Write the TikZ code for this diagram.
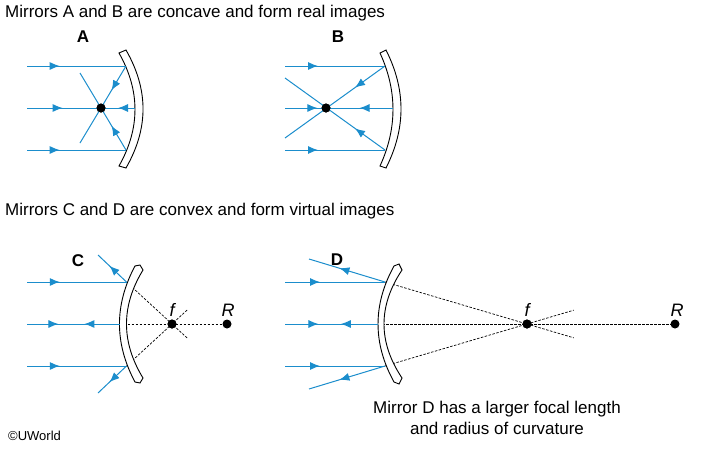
\documentclass[tikz,border=0pt]{standalone}
\usepackage{fontspec}
\setmainfont{Liberation Sans}
\usetikzlibrary{decorations.markings,arrows.meta,calc}
\definecolor{rayblue}{RGB}{27,141,204}
\begin{document}
\begin{tikzpicture}[x=1pt,y=-1pt,
  ray/.style={draw=rayblue,line width=1},
  arr/.style={postaction={decorate},decoration={markings,mark=at position #1 with {\arrow[rayblue]{Latex[length=10,width=8]}}}},
  mirror/.style={draw=black,fill=white,line width=0.9},
  dsh/.style={draw=black,line width=0.7,dash pattern=on 2.5pt off 1.5pt},
  dotn/.style={circle,fill=black,inner sep=0pt,minimum size=9},
  txt/.style={font=\fontsize{17}{21}\selectfont,inner sep=0pt},
  lbl/.style={font=\fontsize{17}{20}\selectfont\bfseries,inner sep=0pt},
  ital/.style={font=\fontsize{18}{20}\selectfont\itshape,inner sep=0pt}]
\useasboundingbox (0,0) rectangle (726,450);
% texts
\node[txt,anchor=west] (t1) at (5,13) {Mirrors A and B are concave and form real images};
\node[lbl] (la) at (83,37) {A};
\node[lbl] (lb) at (338,37) {B};
\node[txt,anchor=west] (t2) at (5,211) {Mirrors C and D are convex and form virtual images};
\node[lbl] (lc) at (78,261) {C};
\node[lbl] (ld) at (337,260) {D};
\node[txt,align=center] (t3) at (497,418) {Mirror D has a larger focal length\\and radius of curvature};
\node[font=\fontsize{13}{15}\selectfont,anchor=west,inner sep=0pt] (cw) at (8,436) {\textcopyright UWorld};

% ---- A ----
\path[mirror] (119,53) .. controls (140.3,90.7) and (140.3,128.3) .. (119,166) -- (126,168) .. controls (148.7,128.3) and (148.7,89.7) .. (126,50) -- cycle;
\node[dotn] (fa) at (101,108) {};
\coordinate (a1) at (126,66); \coordinate (a2) at (135,108); \coordinate (a3) at (126,150);
\coordinate (a1s) at (27,66); \coordinate (a2s) at (27,108); \coordinate (a3s) at (27,150);
\draw[ray,arr=0.33] (a1s) -- (a1);
\draw[ray,arr=0.33] (a2s) -- (a2);
\draw[ray,arr=0.33] (a3s) -- (a3);
\draw[ray,arr=0.58] (a1) -- (fa.center);
\draw[ray,arr=0.58] (a3) -- (fa.center);
\draw[ray,arr=0.5] (a2) -- (fa.center);
\coordinate (ae1) at (80,73); \coordinate (ae2) at (80,143);
\draw[ray] (fa.center) -- (ae1);
\draw[ray] (fa.center) -- (ae2);
\node[dotn] at (fa) {};

% ---- B ----
\path[mirror] (380,53) .. controls (397.3,90.7) and (397.3,128.3) .. (380,166) -- (386,168) .. controls (406,128.3) and (406,89.7) .. (386,50) -- cycle;
\node[dotn] (fb) at (326,108) {};
\coordinate (b1) at (385,66); \coordinate (b2) at (393,108); \coordinate (b3) at (385,150);
\coordinate (b1s) at (285,66); \coordinate (b2s) at (285,108); \coordinate (b3s) at (285,150);
\coordinate (be1) at (285,138); \coordinate (be2) at (285,78);
\draw[ray,arr=0.33] (b1s) -- (b1);
\draw[ray,arr=0.3] (b2s) -- (b2);
\draw[ray,arr=0.33] (b3s) -- (b3);
\draw[ray,arr=0.3] (b1) -- (be1);
\draw[ray,arr=0.3] (b3) -- (be2);
\draw[ray,arr=0.5] (b2) -- (fb.center);
\node[dotn] at (fb) {};

% ---- C ----
\node[dotn] (fc) at (172,324) {};
\node[dotn] (rc) at (227,324) {};
\node[ital] (fcl) at (172,310) {f};
\node[ital] (rcl) at (228,310) {R};
\coordinate (c1) at (126.5,282); \coordinate (c2) at (119.5,324); \coordinate (c3) at (126.5,366);
\draw[dsh] (c1) -- ($(c1)!1.35!(fc.center)$);
\draw[dsh] (c3) -- ($(c3)!1.35!(fc.center)$);
\draw[dsh] (c2) -- (rc.center);
\path[mirror] (135,266) .. controls (114.3,304.7) and (114.3,343.3) .. (135,382) -- (140,383) -- (143,378) .. controls (121,342) and (121,306) .. (143,270) -- (140,265) -- cycle;
\coordinate (c1s) at (27,282); \coordinate (c2s) at (27,324); \coordinate (c3s) at (27,366);
\coordinate (ce1) at (98,255); \coordinate (ce3) at (98,393);
\draw[ray,arr=0.33] (c1s) -- (c1);
\draw[ray,arr=0.34] (c2s) -- (c2);
\draw[ray,arr=0.33] (c3s) -- (c3);
\draw[ray,arr=0.38] (c2) -- (c2s);
\draw[ray,arr=0.6] (c1) -- (ce1);
\draw[ray,arr=0.6] (c3) -- (ce3);
\node[dotn] at (fc) {};

% ---- D ----
\node[dotn] (fd) at (527,324) {};
\node[dotn] (rd) at (675,324) {};
\node[ital] (fdl) at (527,310) {f};
\node[ital] (rdl) at (677,310) {R};
\coordinate (d1) at (385,282); \coordinate (d2) at (378,324); \coordinate (d3) at (385,366);
\draw[dsh] (d1) -- ($(d1)!1.33!(fd.center)$);
\draw[dsh] (d3) -- ($(d3)!1.33!(fd.center)$);
\draw[dsh] (d2) -- (rd.center);
\path[mirror] (394,266) .. controls (372.7,304.7) and (372.7,343.3) .. (394,382) -- (399,384) -- (402,378) .. controls (378,342) and (378,306) .. (402,270) -- (399,264) -- cycle;
\coordinate (d1s) at (285,282); \coordinate (d2s) at (285,324); \coordinate (d3s) at (285,366);
\coordinate (de1) at (309,259); \coordinate (de3) at (309,389);
\draw[ray,arr=0.35] (d1s) -- (d1);
\draw[ray,arr=0.36] (d2s) -- (d2);
\draw[ray,arr=0.35] (d3s) -- (d3);
\draw[ray,arr=0.4] (d2) -- (d2s);
\draw[ray,arr=0.6] (d1) -- (de1);
\draw[ray,arr=0.6] (d3) -- (de3);
\node[dotn] at (fd) {};
\end{tikzpicture}
\end{document}
